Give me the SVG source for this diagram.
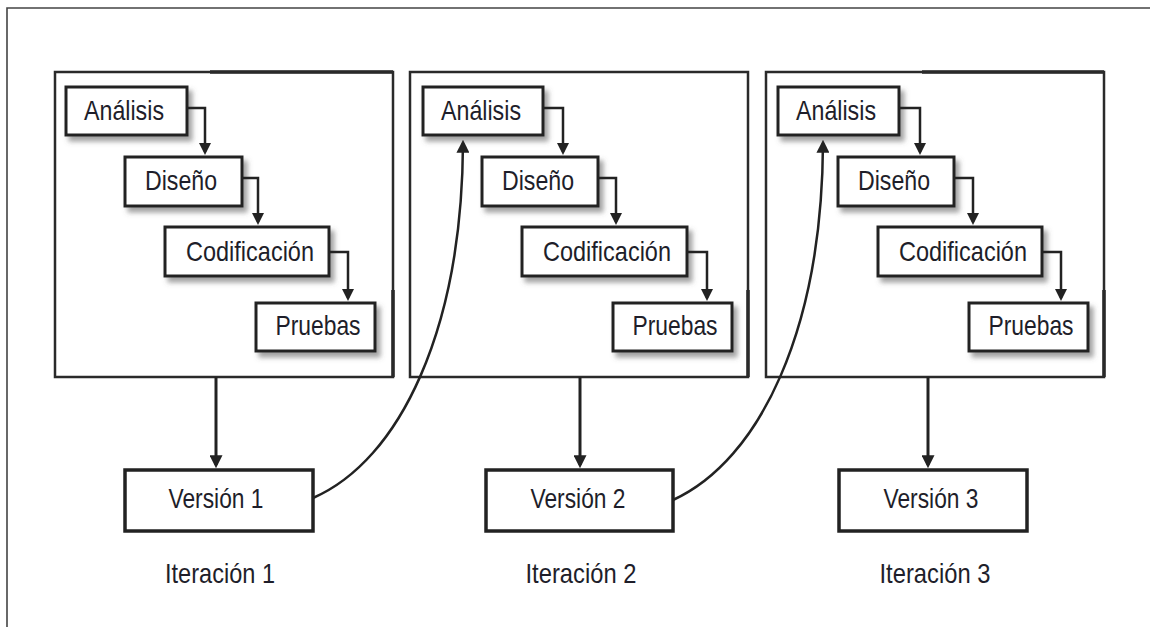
<svg xmlns="http://www.w3.org/2000/svg" width="1150" height="627" viewBox="0 0 1150 627">
<defs>
<filter id="sh" x="-20%" y="-20%" width="150%" height="170%">
<feGaussianBlur in="SourceAlpha" stdDeviation="2.5"/>
<feOffset dx="4" dy="5" result="b"/>
<feFlood flood-color="#555" flood-opacity="0.55"/>
<feComposite in2="b" operator="in"/>
<feMerge><feMergeNode/><feMergeNode in="SourceGraphic"/></feMerge>
</filter>
<marker id="ah" viewBox="0 0 10 10" refX="7.5" refY="5" markerWidth="13" markerHeight="13" markerUnits="userSpaceOnUse" orient="auto">
<path d="M0,0 L10,5 L0,10 z" fill="#222"/>
</marker>
<marker id="as" viewBox="0 0 10 10" refX="7.5" refY="5" markerWidth="13" markerHeight="12" markerUnits="userSpaceOnUse" orient="auto">
<path d="M0,0 L10,5 L0,10 z" fill="#222"/>
</marker>
</defs>
<style>
.frame{fill:none;stroke:#2a2a2a;stroke-width:2.5}
.thick{fill:none;stroke:#2a2a2a;stroke-width:3.5}
.step{fill:#fff;stroke:#222;stroke-width:3;filter:url(#sh)}
.ver{fill:#fff;stroke:#222;stroke-width:3.5}
.lbl{font-family:"Liberation Sans",Arial,sans-serif;font-size:28px;fill:#1e1e2a;text-anchor:middle}
.big{font-family:"Liberation Sans",Arial,sans-serif;font-size:28px;fill:#1e1e2a;text-anchor:middle}
.con{fill:none;stroke:#222;stroke-width:2.5}
.conv{fill:none;stroke:#222;stroke-width:3}
</style>
<rect width="1150" height="627" fill="#fff"/>
<path d="M7,627 V8 H1150" fill="none" stroke="#444" stroke-width="1.6"/>

<g id="iteracion1">
<rect class="frame" x="55" y="72" width="338" height="305"/>
<path class="thick" d="M210,72 H393 M393,290 V377"/>
</g>
<g id="iteracion2">
<rect class="frame" x="410" y="72" width="338" height="305"/>
<path class="thick" d="M748,290 V377"/>
</g>
<g id="iteracion3">
<rect class="frame" x="766" y="72" width="338" height="305"/>
<path class="thick" d="M922,72 H1104 M1104,290 V377"/>
</g>

<g id="it1-analisis"><rect class="step" x="66" y="87" width="121" height="48"/><text class="lbl" x="124" y="120" textLength="80" lengthAdjust="spacingAndGlyphs">Análisis</text></g>
<g id="it1-diseno"><rect class="step" x="125" y="157" width="117" height="49"/><text class="lbl" x="181" y="190" textLength="72" lengthAdjust="spacingAndGlyphs">Diseño</text></g>
<g id="it1-codificacion"><rect class="step" x="165" y="227" width="164" height="49"/><text class="lbl" x="250" y="261" textLength="128" lengthAdjust="spacingAndGlyphs">Codificación</text></g>
<g id="it1-pruebas"><rect class="step" x="256" y="303" width="119" height="48"/><text class="lbl" x="318" y="335" textLength="85" lengthAdjust="spacingAndGlyphs">Pruebas</text></g>

<g id="it2-analisis"><rect class="step" x="423" y="87" width="120" height="48"/><text class="lbl" x="481" y="120" textLength="80" lengthAdjust="spacingAndGlyphs">Análisis</text></g>
<g id="it2-diseno"><rect class="step" x="482" y="157" width="116" height="49"/><text class="lbl" x="538" y="190" textLength="72" lengthAdjust="spacingAndGlyphs">Diseño</text></g>
<g id="it2-codificacion"><rect class="step" x="522" y="227" width="165" height="49"/><text class="lbl" x="607" y="261" textLength="128" lengthAdjust="spacingAndGlyphs">Codificación</text></g>
<g id="it2-pruebas"><rect class="step" x="613" y="303" width="119" height="48"/><text class="lbl" x="675" y="335" textLength="85" lengthAdjust="spacingAndGlyphs">Pruebas</text></g>

<g id="it3-analisis"><rect class="step" x="778" y="87" width="121" height="48"/><text class="lbl" x="836" y="120" textLength="80" lengthAdjust="spacingAndGlyphs">Análisis</text></g>
<g id="it3-diseno"><rect class="step" x="838" y="157" width="116" height="49"/><text class="lbl" x="894" y="190" textLength="72" lengthAdjust="spacingAndGlyphs">Diseño</text></g>
<g id="it3-codificacion"><rect class="step" x="878" y="227" width="164" height="49"/><text class="lbl" x="963" y="261" textLength="128" lengthAdjust="spacingAndGlyphs">Codificación</text></g>
<g id="it3-pruebas"><rect class="step" x="969" y="303" width="119" height="48"/><text class="lbl" x="1031" y="335" textLength="85" lengthAdjust="spacingAndGlyphs">Pruebas</text></g>

<g id="version1"><rect class="ver" x="125" y="470" width="188" height="61"/><text class="big" x="216" y="508" textLength="95" lengthAdjust="spacingAndGlyphs">Versión 1</text></g>
<g id="version2"><rect class="ver" x="486" y="470" width="187" height="61"/><text class="big" x="578" y="508" textLength="95" lengthAdjust="spacingAndGlyphs">Versión 2</text></g>
<g id="version3"><rect class="ver" x="839" y="470" width="188" height="61"/><text class="big" x="931" y="508" textLength="95" lengthAdjust="spacingAndGlyphs">Versión 3</text></g>

<g id="labels">
<text class="big" x="220" y="583" textLength="110" lengthAdjust="spacingAndGlyphs">Iteración 1</text>
<text class="big" x="581" y="583" textLength="111" lengthAdjust="spacingAndGlyphs">Iteración 2</text>
<text class="big" x="935" y="583" textLength="111" lengthAdjust="spacingAndGlyphs">Iteración 3</text>
</g>

<g id="connectors">
<path class="con" d="M187,108 H205 V152" marker-end="url(#as)"/>
<path class="con" d="M242,178 H258 V222" marker-end="url(#as)"/>
<path class="con" d="M329,252 H348 V298" marker-end="url(#as)"/>
<path class="con" d="M543,108 H563 V152" marker-end="url(#as)"/>
<path class="con" d="M598,178 H616 V222" marker-end="url(#as)"/>
<path class="con" d="M687,252 H707 V298" marker-end="url(#as)"/>
<path class="con" d="M899,108 H920 V152" marker-end="url(#as)"/>
<path class="con" d="M954,178 H973 V222" marker-end="url(#as)"/>
<path class="con" d="M1042,252 H1061 V298" marker-end="url(#as)"/>
<path class="conv" d="M216,377 V465" marker-end="url(#ah)"/>
<path class="conv" d="M580,377 V465" marker-end="url(#ah)"/>
<path class="conv" d="M928,377 V465" marker-end="url(#ah)"/>
<path class="con" d="M313,498 C400,460 462,330 463,143" marker-end="url(#ah)"/>
<path class="con" d="M673,500 C760,460 822,330 823,143" marker-end="url(#ah)"/>
</g>
</svg>
